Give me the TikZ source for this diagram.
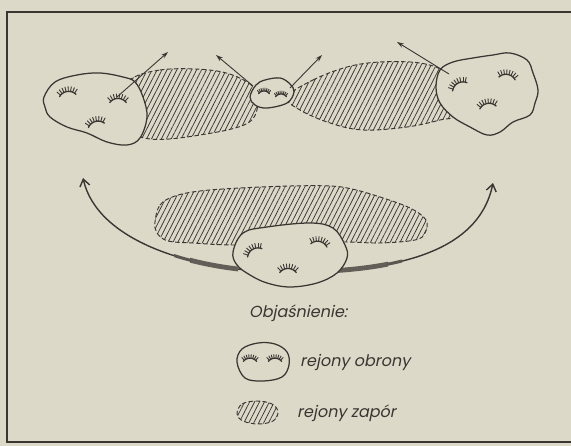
\documentclass[tikz,border=0pt]{standalone}
\usepackage{fontspec}
\newfontfamily\legfont{Poppins}[FakeSlant=0.2]
\usetikzlibrary{arrows.meta,patterns.meta}
\definecolor{paper}{RGB}{221,217,201}
\definecolor{ink}{RGB}{58,54,50}
\tikzset{
  blob/.style={draw=ink, line width=1.25pt, fill=paper},
  zapor/.style={draw=ink, line width=0.95pt, dash pattern=on 4.5pt off 2.5pt,
    pattern={Lines[angle=63,distance=4.4pt,line width=0.75pt]}, pattern color=ink},
  lash/.pic={
    \draw[ink, line width=1.3pt, line cap=round] plot[domain=-52:52, samples=19] ({10.5*sin(\x)},{10.5-10.5*cos(\x)+1.5});
    \foreach \a in {-42,-30,...,42}
      \draw[ink, line width=0.9pt] ({10.5*sin(\a)},{10.5-10.5*cos(\a)+1.5}) -- ({15.5*sin(\a)},{10.5-15.5*cos(\a)+1.5});
  },
  txt/.style={font=\legfont\fontsize{16}{18}\selectfont, text=ink, inner sep=0pt, anchor=west},
  toparrow/.style={draw=ink, line width=0.9pt, -{Stealth[length=7pt,width=4.5pt]}},
  bigarrow/.style={draw=ink, line width=1.4pt,
    {Straight Barb[length=7pt,width=10pt]}-{Straight Barb[length=7pt,width=10pt]}}
}
\begin{document}
\begin{tikzpicture}[x=1pt,y=-1pt]
\useasboundingbox (0,0) rectangle (571,446);
\fill[paper] (0,0) rectangle (571,446);
% frame
\draw[ink, line width=1.4pt] (580,12) -- (7,12) -- (7,442) -- (580,442);

% hatched barrier zones (top)
\path[zapor] plot[smooth cycle, tension=0.6] coordinates {(125,85) (160,70) (217,71) (250,84) (258,100) (248,123) (200,135) (150,139) (125,125)};
\path[zapor] plot[smooth cycle, tension=0.6] coordinates {(287,97) (313,80) (347,67) (380,62) (420,63) (445,72) (455,90) (455,115) (440,120) (407,127) (363,130) (330,123) (300,110)};
% lower hatched zone
\path[zapor] plot[smooth cycle, tension=0.6] coordinates {(155,222) (160,205) (175,196) (200,191) (240,188) (290,186) (330,186) (352,189) (380,197) (410,208) (426,220) (425,233) (415,240) (380,243) (345,242) (300,244) (233,245) (193,243) (168,241) (157,233)};

% big curved arrow
\coordinate (cL) at (83,178);
\coordinate (cB) at (290,272);
\coordinate (cR) at (493,183);
\path[bigarrow] (cL) .. controls (97,240) and (190,272) .. (cB) .. controls (390,272) and (478,255) .. (cR);
\begin{scope}
  \clip (190,240) rectangle (238,290) (338,240) rectangle (388,290);
  \draw[ink!75!paper, line width=4.8pt] (cL) .. controls (97,240) and (190,272) .. (cB) .. controls (390,272) and (478,255) .. (cR);
\end{scope}
\begin{scope}
  \clip (174,240) rectangle (191,290) (387,240) rectangle (402,290);
  \draw[ink!80!paper, line width=3pt] (cL) .. controls (97,240) and (190,272) .. (cB) .. controls (390,272) and (478,255) .. (cR);
\end{scope}

% defence areas
\path[blob] plot[smooth cycle, tension=0.6] coordinates {(44,97) (55,82) (77,75) (100,73) (123,77) (135,82) (143,97) (147,117) (140,138) (127,145) (107,142) (87,133) (67,127) (50,117) (45,107)};
\path[blob] plot[smooth cycle, tension=0.6] coordinates {(250,97) (256,85) (265,80) (280,78) (290,84) (294,92) (287,103) (267,108) (255,105)};
\path[blob] plot[smooth cycle, tension=0.6] coordinates {(436,87) (440,70) (453,62) (473,58) (493,55) (510,53) (527,60) (533,73) (538,90) (535,103) (530,115) (513,122) (500,132) (487,135) (470,127) (453,117) (440,103)};
\path[blob] plot[smooth cycle, tension=0.6] coordinates {(233,252) (243,233) (267,227) (310,223) (333,228) (345,245) (347,258) (337,273) (317,283) (290,287) (267,283) (250,275) (237,265)};

% defence marks
\pic[rotate=8] at (67,90) {lash};
\pic at (118,97) {lash};
\pic[rotate=15] at (95,120) {lash};
\pic[scale=0.65] at (264,90) {lash};
\pic[scale=0.65] at (281,93) {lash};
\pic[rotate=30] at (457,82) {lash};
\pic[rotate=-10] at (508,73) {lash};
\pic[rotate=10] at (487,102) {lash};
\pic[rotate=30] at (252,248) {lash};
\pic[rotate=-12] at (320,240) {lash};
\pic at (288,267) {lash};

% outward arrows
\coordinate (a1s) at (117,97);  \coordinate (a1e) at (168,52);
\coordinate (a2s) at (253,86);  \coordinate (a2e) at (216,55);
\coordinate (a3s) at (290,88);  \coordinate (a3e) at (322,55);
\coordinate (a4s) at (449,74);  \coordinate (a4e) at (397,42);
\draw[toparrow] (a1s) -- (a1e);
\draw[toparrow] (a2s) -- (a2e);
\draw[toparrow] (a3s) -- (a3e);
\draw[toparrow] (a4s) -- (a4e);

% legend
\node[txt] (title) at (249,313) {Objaśnienie:};
\path[blob] plot[smooth cycle, tension=0.6] coordinates {(237,362) (242,349) (258,343) (275,344) (287,352) (289,365) (282,377) (263,381) (245,378)};
\pic[scale=0.8] at (250,357) {lash};
\pic[scale=0.8] at (275,357) {lash};
\node[txt] (leg1) at (300,362) {rejony obrony};
\path[zapor] plot[smooth cycle, tension=0.6] coordinates {(237,414) (242,404) (257,401) (272,404) (278,412) (273,421) (258,424) (243,421)};
\node[txt] (leg2) at (297,413) {rejony zapór};
\end{tikzpicture}
\end{document}
